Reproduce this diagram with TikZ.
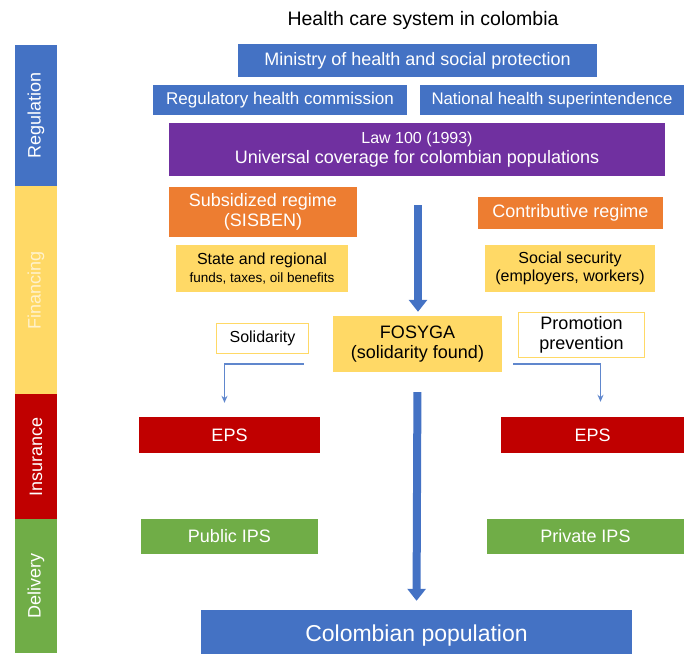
\documentclass[tikz,border=0pt]{standalone}
\usepackage{fontspec}
\setmainfont{Liberation Sans}
\usetikzlibrary{arrows.meta}

\definecolor{msblue}{HTML}{4472C4}
\definecolor{msyellow}{HTML}{FFD966}
\definecolor{msorange}{HTML}{ED7D31}
\definecolor{msred}{HTML}{C00000}
\definecolor{msgreen}{HTML}{70AD47}
\definecolor{mspurple}{HTML}{7030A0}
\definecolor{mscream}{HTML}{FFF2CC}

\begin{document}
\begin{tikzpicture}[x=1pt, y=-1pt,
    box/.style={rectangle, inner sep=0pt, align=center, text centered, font=\fontsize{18}{20}\selectfont},
    bluebox/.style={box, fill=msblue, text=white},
    orangebox/.style={box, fill=msorange, text=white},
    yellowbox/.style={box, fill=msyellow, text=black, font=\fontsize{16}{18}\selectfont},
    whitebox/.style={box, fill=white, draw=msyellow, line width=1.5pt, text=black},
    redbox/.style={box, fill=msred, text=white, minimum height=36pt},
    greenbox/.style={box, fill=msgreen, text=white, minimum height=35pt},
    sidebar/.style={rectangle, inner sep=0pt, rotate=90, minimum height=42pt, text=white, font=\fontsize{18}{20}\selectfont},
    bigarrow/.style={draw=msblue, line width=8pt, -{Triangle[width=18pt,length=12pt]}},
    thinarrow/.style={draw=msblue!85!white, line width=1.7pt, -{Stealth[length=7pt,width=6pt]}}]

    \useasboundingbox (0,0) rectangle (684,653);

    \node (title) at (423,20) [font=\fontsize{19.5}{22}\selectfont] {Health care system in colombia};

    % levels on the left
    \node (regbar) at (36,115.5) [sidebar, fill=msblue, minimum width=141pt] {Regulation};
    \node (finbar) at (36,290) [sidebar, fill=msyellow, minimum width=208pt, text=mscream] {Financing};
    \node (insbar) at (36,456.5) [sidebar, fill=msred, minimum width=125pt] {Insurance};
    \node (delbar) at (36,586) [sidebar, fill=msgreen, minimum width=134pt] {Delivery};

    % regulation
    \node (ministry) at (417.5,60.5) [bluebox, minimum width=359pt, minimum height=33pt] {Ministry of health and social protection};
    \node (regcom) at (280,100) [bluebox, minimum width=254pt, minimum height=30pt, font=\fontsize{17}{19}\selectfont] {Regulatory health commission};
    \node (supnat) at (552,100) [bluebox, minimum width=264pt, minimum height=30pt, font=\fontsize{16.8}{19}\selectfont] {National health superintendence};
    \node (law) at (417,149.5) [box, fill=mspurple, text=white, minimum width=496pt, minimum height=53pt]
        {{\fontsize{16}{19}\selectfont Law 100 (1993)}\\Universal coverage for colombian populations};

    % financing
    \node (subsid) at (263,212) [orangebox, minimum width=188pt, minimum height=50pt] {Subsidized regime\\(SISBEN)};
    \node (contrib) at (570.5,213) [orangebox, minimum width=185pt, minimum height=32pt] {Contributive regime};
    \node (stategov) at (262,268.5) [yellowbox, minimum width=172pt, minimum height=47pt]
        {State and regional\\{\fontsize{13.5}{16}\selectfont funds, taxes, oil benefits}};
    \node (socsec) at (570,268.5) [yellowbox, minimum width=170pt, minimum height=47pt] {Social security\\(employers, workers)};
    \node (solid) at (262.5,338.5) [whitebox, minimum width=92pt, minimum height=30pt, font=\fontsize{16}{18}\selectfont] {Solidarity};
    \node (fosyga) at (417.5,344) [box, fill=msyellow, minimum width=169pt, minimum height=56pt] {FOSYGA\\(solidarity found)};
    \node (promo) at (581.5,335) [whitebox, minimum width=126pt, minimum height=45pt] {Promotion\\prevention};

    % insurance and delivery
    \node (epsL) at (229.5,435) [redbox, minimum width=181pt] {EPS};
    \node (epsR) at (592.5,435) [redbox, minimum width=183pt] {EPS};
    \node (pubips) at (229.5,536.5) [greenbox, minimum width=177pt] {Public IPS};
    \node (privips) at (585.5,536.5) [greenbox, minimum width=197pt] {Private IPS};
    \node (pop) at (416.5,636) [bluebox, minimum width=431pt, minimum height=52pt, font=\fontsize{23}{26}\selectfont] {Colombian population};

    % flows
    \coordinate (flowtop) at (418,205);
    \draw [bigarrow, shorten >=4pt] (flowtop) -- (flowtop |- fosyga.north);
    \draw [bigarrow, shorten <=20pt, shorten >=9pt] (fosyga.south) -- (pop.north);
    \draw [thinarrow, shorten >=14pt] ([shift={(-29pt,8pt)}]fosyga.south west) -| ([xshift=-5pt]epsL.north);
    \draw [thinarrow, shorten >=15pt] ([shift={(11pt,8pt)}]fosyga.south east) -| ([xshift=8pt]epsR.north);

\end{tikzpicture}
\end{document}
